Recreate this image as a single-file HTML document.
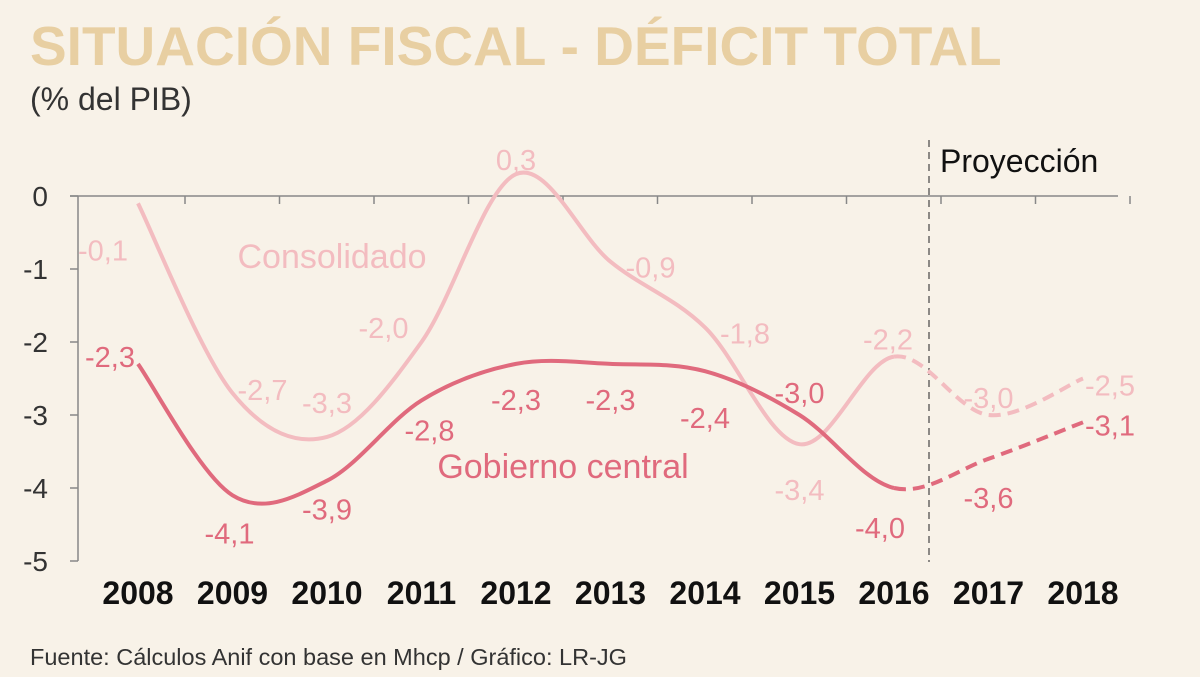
<!DOCTYPE html>
<html><head><meta charset="utf-8"><style>
body{margin:0;background:#f8f2e8;}
svg{display:block;font-family:"Liberation Sans",sans-serif;}
</style></head><body>
<svg id="chart" width="1200" height="677" viewBox="0 0 1200 677">
<rect width="1200" height="677" fill="#f8f2e8"/>
<text x="30" y="65" font-size="55" font-weight="bold" fill="#e8cfa2">SITUACIÓN FISCAL - DÉFICIT TOTAL</text>
<text x="30" y="110" font-size="32" fill="#333">(% del PIB)</text>
<text x="30" y="665" font-size="23.5" fill="#333">Fuente: Cálculos Anif con base en Mhcp / Gráfico: LR-JG</text>
<g id="axes"></g>
<g id="series"></g>
</svg>
<script>
const years=["2008","2009","2010","2011","2012","2013","2014","2015","2016","2017","2018"];
const consolidado=[-0.1,-2.7,-3.3,-2.0,0.3,-0.9,-1.8,-3.4,-2.2,-3.0,-2.5];
const gobierno=[-2.3,-4.1,-3.9,-2.8,-2.3,-2.3,-2.4,-3.0,-4.0,-3.6,-3.1];
const yTicks=[0,-1,-2,-3,-4,-5];
const projStart=8;
const consOff=[[-35,47],[30,-3],[0,-34],[-38,-14],[0,-14],[40,6],[40,6],[0,46],[-6,-17],[0,-17],[27,7]];
const gobOff=[[-28,-7],[-3,38],[0,29],[8,30],[0,36],[0,36],[0,47],[0,-22],[-14,40],[0,39],[27,3]];
const NS="http://www.w3.org/2000/svg";
const xS=i=>138+i*94.5;
const yS=v=>196-v*73;
function mk(tag,attrs,parent){const e=document.createElementNS(NS,tag);for(const k in attrs)e.setAttribute(k,attrs[k]);parent.appendChild(e);return e;}
const ax=document.getElementById('axes'),sr=document.getElementById('series');
let e=mk('line',{x1:78,y1:yS(0),x2:78,y2:yS(-5),stroke:'#888','stroke-width':1.5},ax);


e=mk('line',{x1:70,y1:yS(0),x2:1118,y2:yS(0),stroke:'#888','stroke-width':1.5},ax);


yTicks.forEach(t=>{
 let l=mk('line',{x1:70,y1:yS(t),x2:78,y2:yS(t),stroke:'#888','stroke-width':1.5},ax);
 
 
 let tx=mk('text',{x:48,y:yS(t)+10,'font-size':28,fill:'#333','text-anchor':'end'},ax);
 tx.textContent=t===0?'0':String(t);
 
 
});
years.forEach((y,i)=>{
 let l=mk('line',{x1:xS(i)+47,y1:yS(0),x2:xS(i)+47,y2:yS(0)+8,stroke:'#888','stroke-width':1.5},ax);
 
 
 let tx=mk('text',{x:xS(i),y:604,'font-size':32,fill:'#111','text-anchor':'middle','font-weight':'bold','stroke':'none'},ax);
 tx.textContent=y;
 
 
});
const px=929;
e=mk('line',{x1:px,y1:140,x2:px,y2:562,stroke:'#444','stroke-width':1.2,'stroke-dasharray':'7,5'},ax);


e=mk('text',{x:940,y:172,'font-size':32,fill:'#111'},ax);
e.textContent='Proyección';


function path(vals,a,b){
 const p=vals.map((v,i)=>[xS(i),yS(v)]);
 let d='M'+p[a][0]+','+p[a][1];
 for(let i=a;i<b;i++){
  const p0=p[Math.max(i-1,0)],p1=p[i],p2=p[i+1],p3=p[Math.min(i+2,p.length-1)];
  const c1=[p1[0]+(p2[0]-p0[0])/6,p1[1]+(p2[1]-p0[1])/6];
  const c2=[p2[0]-(p3[0]-p1[0])/6,p2[1]-(p3[1]-p1[1])/6];
  d+=' C'+c1+' '+c2+' '+p2;
 }
 return d;
}
function series(vals,off,color,name){
 let s=mk('path',{d:path(vals,0,projStart),fill:'none',stroke:color,'stroke-width':4},sr);
 
 
 s=mk('path',{d:path(vals,projStart,vals.length-1),fill:'none',stroke:color,'stroke-width':4,'stroke-dasharray':'12,7'},sr);
 
 
 vals.forEach((v,i)=>{
  let t=mk('text',{x:xS(i)+off[i][0],y:yS(v)+off[i][1]+10,'font-size':29,fill:color,'text-anchor':'middle'},sr);
  t.textContent=v.toFixed(1).replace('.',',');
  
  
 });
}
series(consolidado,consOff,'#f3bcc0','consolidado');
series(gobierno,gobOff,'#e06a7d','gobierno');
e=mk('text',{x:332,y:268,'font-size':34,fill:'#f3bcc0','text-anchor':'middle'},sr);
e.textContent='Consolidado';


e=mk('text',{x:563,y:478,'font-size':34,fill:'#e06a7d','text-anchor':'middle'},sr);
e.textContent='Gobierno central';


</script>
</body></html>
